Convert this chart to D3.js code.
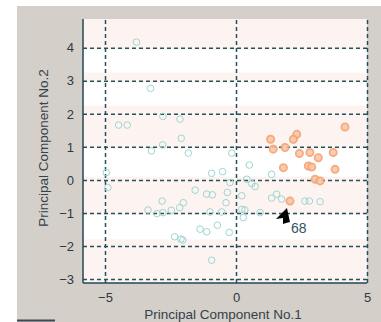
<!DOCTYPE html>
<html>
<head>
<meta charset="utf-8">
<script src="https://cdn.jsdelivr.net/npm/d3@7/dist/d3.min.js"></script>
<style>
  body { margin: 0; background: #ffffff; }
  svg { display: block; font-family: "Liberation Sans", Arial, sans-serif; }
</style>
</head>
<body>
<div id="chart"></div>
<script>
// PCA scores: cluster 1 (hollow teal) and cluster 2 (orange)
const clusterA = [
  [-3.80, 4.17], [-3.26, 2.77], [-2.79, 1.92], [-2.14, 1.84], [-4.48, 1.66], [-4.15, 1.66],
  [-2.09, 1.26], [-2.80, 1.06], [-3.23, 0.88], [-4.95, 0.22], [-4.89, -0.23], [-2.82, -0.64],
  [-3.36, -0.91], [-3.02, -1.02], [-2.79, -0.99], [-2.47, -0.92], [-2.15, -0.84], [-2.34, -1.72],
  [-2.10, -1.79], [-1.82, 0.81], [-0.16, 0.81], [0.51, 0.45], [-0.93, 0.20], [-0.51, 0.25],
  [1.36, 0.17], [-0.23, -0.08], [0.41, 0.02], [0.60, -0.11], [0.73, -0.20], [-1.56, -0.31],
  [-1.12, -0.43], [-0.90, -0.45], [-0.33, -0.38], [0.22, -0.48], [1.55, -0.43], [1.36, -0.55],
  [-2.01, -0.69], [-0.38, -0.69], [0.22, -0.89], [0.34, -0.91], [-0.99, -0.97], [-0.55, -0.97],
  [-1.37, -1.49], [-1.12, -1.57], [-0.71, -1.37], [-0.26, -1.59], [-2.03, -1.82], [-0.93, -2.43],
  [1.74, -0.58], [2.63, -0.64], [2.80, -0.64], [3.21, -0.66], [0.92, -0.99], [0.28, -1.14]
];
const clusterB = [
  [4.16, 1.60], [1.32, 1.23], [2.32, 1.38], [2.19, 1.23], [1.42, 0.93], [1.87, 0.98],
  [2.42, 0.80], [2.82, 0.83], [3.14, 0.67], [3.71, 0.83], [2.76, 0.42], [2.89, 0.39],
  [1.81, 0.37], [3.78, 0.32], [3.02, 0.02], [3.21, -0.03], [2.06, -0.64]
];
const xTicks = [-5, 0, 5];
const yTicks = [-3, -2, -1, 0, 1, 2, 3, 4];
const annotation = { label: '68', point: [2.06, -0.64] };
// bands that came out white in the original screenshot
const whiteBands = [[3.25, 4], [2.25, 3], [0.1, 1], [-1.8, -1]];

const W = 381, H = 322;
const plot = { left: 83, right: 367, top: 19, bottom: 283 };

const svg = d3.select('#chart').append('svg')
  .attr('width', W)
  .attr('height', H);

// figure background (grey window)
svg.append('rect')
  .attr('x', 17).attr('y', 6)
  .attr('width', W - 17).attr('height', H - 6)
  .attr('fill', '#d5cfca');

svg.append('line')
  .attr('x1', 17).attr('x2', 55)
  .attr('y1', 320.5).attr('y2', 320.5)
  .attr('stroke', '#3d4a55')
  .attr('stroke-width', 2);

const x = d3.scaleLinear().domain([-5.84, 5]).range([plot.left, plot.right]);
const y = d3.scaleLinear().domain([-3.12, 4.87]).range([plot.bottom, plot.top]);

// axes background
svg.append('rect')
  .attr('x', plot.left).attr('y', plot.top)
  .attr('width', plot.right - plot.left)
  .attr('height', plot.bottom - plot.top)
  .attr('fill', '#fdf4f1');

svg.selectAll('rect.band')
  .data(whiteBands)
  .enter().append('rect')
  .attr('class', 'band')
  .attr('x', plot.left)
  .attr('width', plot.right - plot.left)
  .attr('y', d => y(d[1]) + 2)
  .attr('height', d => y(d[0]) - y(d[1]) - 2)
  .attr('fill', '#ffffff');

// dashed grid
const gridColor = '#23515c';
svg.append('g')
  .attr('transform', `translate(0,${plot.bottom})`)
  .call(d3.axisBottom(x).tickValues(xTicks).tickSize(-(plot.bottom - plot.top)).tickFormat(''))
  .call(g => g.select('.domain').remove())
  .selectAll('.tick line')
  .attr('stroke', gridColor)
  .attr('stroke-width', 1.5)
  .attr('stroke-dasharray', '4,3');

svg.append('g')
  .attr('transform', `translate(${plot.left},0)`)
  .call(d3.axisLeft(y).tickValues(yTicks).tickSize(-(plot.right - plot.left)).tickFormat(''))
  .call(g => g.select('.domain').remove())
  .selectAll('.tick line')
  .attr('stroke', gridColor)
  .attr('stroke-width', 1.5)
  .attr('stroke-dasharray', '4,3');

// solid left and bottom axis lines
svg.append('line')
  .attr('x1', plot.left).attr('x2', plot.left)
  .attr('y1', plot.top).attr('y2', plot.bottom)
  .attr('stroke', '#1f4753').attr('stroke-width', 1.5);
svg.append('line')
  .attr('x1', plot.left).attr('x2', plot.right)
  .attr('y1', plot.bottom).attr('y2', plot.bottom)
  .attr('stroke', '#1f4753').attr('stroke-width', 1.5);

// tick labels
const labelColor = '#2c3a42';
const xAxis = svg.append('g')
  .attr('transform', `translate(0,${plot.bottom})`)
  .call(d3.axisBottom(x).tickValues(xTicks).tickSize(0).tickPadding(10).tickFormat(d3.format('d')));
xAxis.select('.domain').remove();
xAxis.selectAll('text')
  .attr('fill', labelColor)
  .style('font-size', '13px')
  .style('font-family', '"Liberation Sans", Arial, sans-serif');

const yAxis = svg.append('g')
  .attr('transform', `translate(${plot.left},0)`)
  .call(d3.axisLeft(y).tickValues(yTicks).tickSize(0).tickPadding(9).tickFormat(d3.format('d')));
yAxis.select('.domain').remove();
yAxis.selectAll('text')
  .attr('fill', labelColor)
  .style('font-size', '13px')
  .style('font-family', '"Liberation Sans", Arial, sans-serif');

// axis titles
svg.append('text')
  .attr('x', 223)
  .attr('y', 319)
  .attr('text-anchor', 'middle')
  .attr('fill', '#33424b')
  .style('font-size', '13.5px')
  .text('Principal Component No.1');

svg.append('text')
  .attr('transform', `translate(48,148) rotate(-90)`)
  .attr('text-anchor', 'middle')
  .attr('fill', '#33424b')
  .style('font-size', '13.5px')
  .text('Principal Component No.2');

// points
svg.append('g').selectAll('circle')
  .data(clusterA)
  .enter().append('circle')
  .attr('cx', d => x(d[0]))
  .attr('cy', d => y(d[1]))
  .attr('r', 3.3)
  .attr('fill', 'none')
  .attr('stroke', '#9dd6d2')
  .attr('stroke-width', 1);

svg.append('g').selectAll('circle')
  .data(clusterB)
  .enter().append('circle')
  .attr('cx', d => x(d[0]))
  .attr('cy', d => y(d[1]))
  .attr('r', 3.6)
  .attr('fill', '#fac8a6')
  .attr('stroke', '#f4a274')
  .attr('stroke-width', 1.8)
  .attr('opacity', 0.9);

// annotation arrow pointing at observation 68
const px = x(annotation.point[0]), py = y(annotation.point[1]);
const tip = [px - 3, py + 7];
svg.append('path')
  .attr('d', `M${tip[0]},${tip[1]} L${tip[0] - 11},${tip[1] + 11} L${tip[0] - 4},${tip[1] + 10} L${tip[0] - 4},${tip[1] + 16} L${tip[0] - 1},${tip[1] + 15} L${tip[0] + 3},${tip[1] + 14} Z`)
  .attr('fill', '#000000');

svg.append('text')
  .attr('x', px + 1)
  .attr('y', py + 32)
  .attr('fill', '#2f5560')
  .style('font-size', '14px')
  .text(annotation.label);
</script>
</body>
</html>
